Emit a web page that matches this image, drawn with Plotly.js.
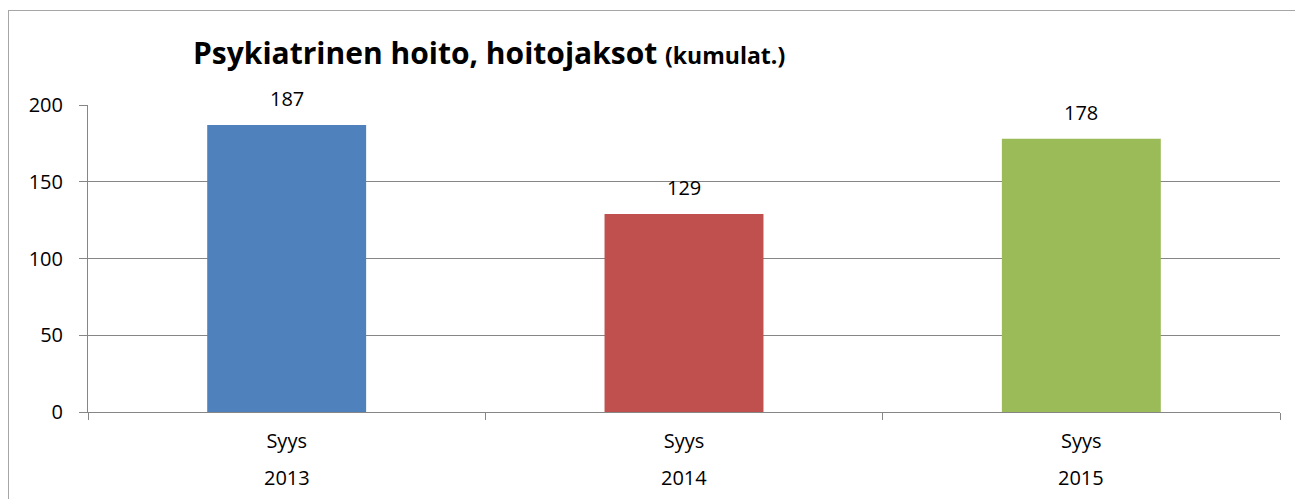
<!DOCTYPE html>
<html>
<head>
<meta charset="utf-8">
<script src="https://cdn.plot.ly/plotly-3.0.1.min.js"></script>
<style>
html,body{margin:0;padding:0;background:#fff;overflow:hidden;}
#frame{position:absolute;left:8px;top:10px;width:1400px;height:600px;border:1px solid #a6a6a6;}
#chart{position:absolute;left:0;top:0;width:1295px;height:499px;}
</style>
</head>
<body>
<div id="frame"></div>
<div id="chart"></div>
<script>
const categories = ["Syys 2013", "Syys 2014", "Syys 2015"];
const monthLabels = ["Syys", "Syys", "Syys"];
const yearLabels = ["2013", "2014", "2015"];
const values = [187, 129, 178];
const barColors = ["#4F81BD", "#C0504D", "#9BBB59"];

const font = "Open Sans, Noto Sans, sans-serif";

const trace = {
  type: "bar",
  x: categories,
  y: values,
  marker: {color: barColors},
  width: 0.4,
  hoverinfo: "skip"
};

const valueNotes = categories.map((c, i) => ({
  x: c, y: values[i], xref: "x", yref: "y",
  text: String(values[i]), showarrow: false,
  yshift: 26, font: {family: font, size: 20, color: "#000"}
}));
const yearNotes = categories.map((c, i) => ({
  x: c, y: 0, xref: "x", yref: "paper",
  text: yearLabels[i], showarrow: false,
  yanchor: "middle", yshift: -65,
  font: {family: font, size: 20, color: "#000"}
}));

const layout = {
  width: 1295, height: 499,
  margin: {l: 88, r: 15, t: 105, b: 87},
  paper_bgcolor: "rgba(0,0,0,0)",
  plot_bgcolor: "rgba(0,0,0,0)",
  showlegend: false,
  bargap: 0.6,
  title: {
    text: "<b>Psykiatrinen hoito, hoitojaksot <span style='font-size:23px'>(kumulat.)</span></b>",
    font: {family: font, size: 30, color: "#000"},
    x: (193 - 88) / 1192, xanchor: "left", xref: "paper",
    y: 0.892, yanchor: "middle"
  },
  xaxis: {
    type: "category",
    tickvals: categories,
    ticktext: monthLabels,
    tickson: "boundaries",
    ticks: "outside", ticklen: 7, tickcolor: "#868686",
    showline: true, linecolor: "#868686", linewidth: 1,
    showgrid: false, zeroline: false,
    tickfont: {family: font, size: 20, color: "#000"},
    ticklabelstandoff: 11,
    fixedrange: true
  },
  yaxis: {
    range: [0, 200],
    tickvals: [0, 50, 100, 150, 200],
    ticks: "outside", ticklen: 8, tickcolor: "#868686",
    showline: true, linecolor: "#868686", linewidth: 1,
    showgrid: true, gridcolor: "#868686", gridwidth: 1,
    zeroline: false,
    tickfont: {family: font, size: 20, color: "#000"},
    ticklabelstandoff: 12,
    fixedrange: true
  },
  annotations: valueNotes.concat(yearNotes)
};

Plotly.newPlot("chart", [trace], layout, {displayModeBar: false, staticPlot: true});
</script>
</body>
</html>
